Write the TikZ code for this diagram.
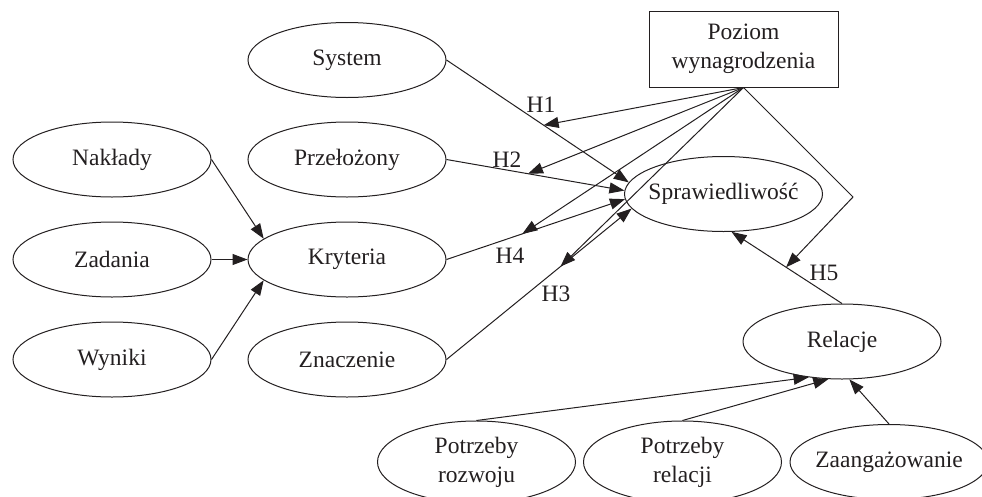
\documentclass[tikz,border=0pt]{standalone}
\usepackage{fontspec}
\setmainfont{Liberation Serif}
\usetikzlibrary{shapes.geometric,arrows.meta}
\definecolor{ink}{RGB}{35,31,32}
\newcommand\ctr[1]{\makebox[0pt][c]{#1}}
\newcommand\twol[2]{\makebox[0pt][c]{\begin{tabular}{@{}c@{}}#1\\#2\end{tabular}}}
\begin{document}
\begin{tikzpicture}[x=1pt,y=-1pt,line width=1pt,draw=ink,text=ink,
  every node/.style={font=\fontsize{23.5}{29}\selectfont},
  ell/.style={draw=ink,ellipse,minimum width=198pt,minimum height=75pt,inner sep=0pt},
  box/.style={draw=ink,rectangle,minimum width=189pt,minimum height=76pt,inner sep=0pt,align=center},
  arr/.style={draw=ink,-{Triangle[length=15pt,width=11pt]}},
  lab/.style={inner sep=0pt}]
\useasboundingbox (0,0) rectangle (982,496);
\node[ell] (sys) at (347,60) {\ctr{System}};
\node[ell] (nak) at (112,159.5) {\ctr{Nakłady}};
\node[ell] (prz) at (347,159.5) {\ctr{Przełożony}};
\node[ell] (zad) at (112,259.5) {\ctr{Zadania}};
\node[ell] (kry) at (347,259.5) {\ctr{Kryteria}};
\node[ell] (wyn) at (112,359.5) {\ctr{Wyniki}};
\node[ell] (zna) at (347,359.5) {\ctr{Znaczenie}};
\node[ell] (spr) at (723.5,194) {\ctr{Sprawiedliwość}};
\node[box] (poz) at (743.5,49) {Poziom\\wynagrodzenia};
\node[ell] (rel) at (842,341.5) {\ctr{Relacje}};
\node[ell] (pr1) at (476.5,462) {\twol{Potrzeby}{rozwoju}};
\node[ell] (pr2) at (682.5,462) {\twol{Potrzeby}{relacji}};
\node[ell] (zaa) at (889,462) {\ctr{Zaangażowanie}};
\coordinate (bend) at (853,197);
% inputs to Kryteria
\draw[arr] (nak.east) -- (kry.166);
\draw[arr] (zad.east) -- (kry.west);
\draw[arr] (wyn.east) -- (kry.194);
% paths to Sprawiedliwosc
\draw[arr] (sys.east) -- coordinate[pos=0.533] (h1) (spr.173);
\draw[arr] (prz.east) -- coordinate[pos=0.458] (h2) (spr.178);
\draw[arr] (kry.east) -- coordinate[pos=0.425] (h4) (spr.183);
\draw[arr] (zna.east) -- coordinate[pos=0.616] (h3) (spr.189);
\draw[arr] (rel.north) -- coordinate[pos=0.506] (h5) (spr.-78);
% moderator arrows
\draw[arr] (poz.south) -- (h1);
\draw[arr] (poz.south) -- (h2);
\draw[arr] (poz.south) -- (h4);
\draw[arr] (poz.south) -- (h3);
\draw[arr] (poz.south) -- (bend) -- (h5);
% inputs to Relacje
\draw[arr] (pr1.north) -- (rel.227);
\draw[arr] (pr2.north) -- (rel.250);
\draw[arr] (zaa.north) -- (rel.-79);
% labels
\node[lab] (l1) at (541,105) {H1};
\node[lab] (l2) at (507,160) {H2};
\node[lab] (l4) at (510,256) {H4};
\node[lab] (l3) at (556,294) {H3};
\node[lab] (l5) at (824,273) {H5};
\end{tikzpicture}
\end{document}
